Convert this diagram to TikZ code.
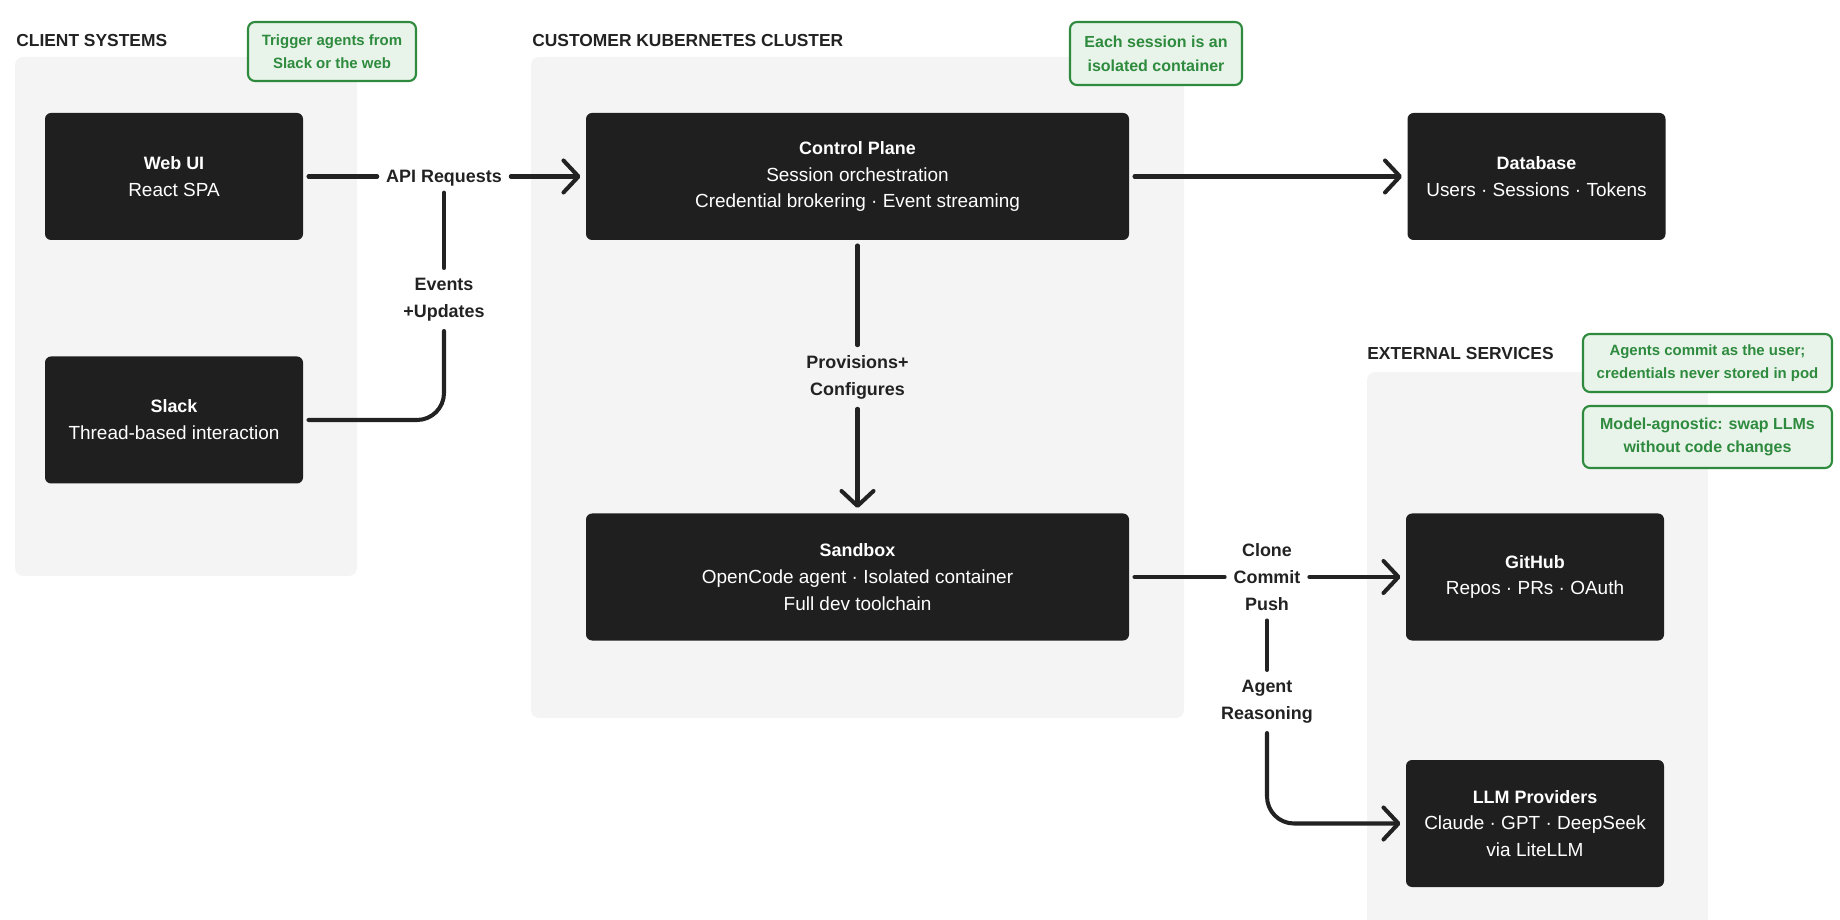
\documentclass[tikz,border=0pt]{standalone}
\usepackage{fontspec}
\setmainfont{Liberation Sans}
\usepackage{tikz}
\usetikzlibrary{arrows.meta}
\pgfdeclarelayer{bglayer}
\pgfdeclarelayer{edgelayer}
\pgfdeclarelayer{nodelayer}
\pgfsetlayers{bglayer,edgelayer,nodelayer,main}
\definecolor{ink}{HTML}{222222}
\definecolor{boxfill}{HTML}{1F1F1F}
\definecolor{grp}{HTML}{F4F4F4}
\definecolor{notefill}{HTML}{E8F3EA}
\definecolor{notegreen}{HTML}{2E8B3E}
\newcommand{\boxhead}{\bfseries\fontsize{10.2}{15.3}\selectfont}
\tikzstyle{none}=[inner sep=0pt]
\tikzstyle{darkbox}=[rectangle, rounded corners=0.12cm, fill=boxfill, text=white, align=center, minimum width=5.16cm, minimum height=2.54cm, outer sep=0.11cm, font=\fontsize{10.8}{15.3}\selectfont]
\tikzstyle{widebox}=[darkbox, minimum width=10.86cm]
\tikzstyle{group}=[fill=grp, rounded corners=0.16cm]
\tikzstyle{grouptitle}=[inner sep=0pt, anchor=west, text=ink, font=\bfseries\fontsize{9.9}{12}\selectfont]
\tikzstyle{flowlabel}=[inner sep=0pt, outer xsep=0.18cm, outer ysep=0.2cm, align=center, text=ink, font=\bfseries\fontsize{10.2}{15.3}\selectfont]
\tikzstyle{note}=[rectangle, rounded corners=0.14cm, draw=notegreen, line width=1.2pt, fill=notefill, text=notegreen, align=center, font=\bfseries\fontsize{8.5}{12.8}\selectfont]
\tikzstyle{flow}=[line width=2.3pt, draw=ink, line cap=round, line join=round]
\tikzstyle{arrow}=[flow, -{Straight Barb[length=0.3cm, width=0.64cm, round]}]

\begin{document}
\begin{tikzpicture}
	\useasboundingbox (0, 0) rectangle (36.8, -18.4);
	\begin{pgfonlayer}{bglayer}
		\fill [style=group] (0.30, -1.14) rectangle (7.14, -11.52);
		\fill [style=group] (10.62, -1.14) rectangle (23.68, -14.36);
		\fill [style=group] (27.34, -7.44) rectangle (34.16, -18.8);
	\end{pgfonlayer}
	\begin{pgfonlayer}{nodelayer}
		\node [style=darkbox] (0) at (3.48, -3.53) {{\boxhead Web UI}\\React SPA};
		\node [style=darkbox] (1) at (3.48, -8.40) {{\boxhead Slack}\\Thread-based interaction};
		\node [style=widebox] (2) at (17.15, -3.53) {{\boxhead Control Plane}\\Session orchestration\\Credential brokering · Event streaming};
		\node [style=widebox] (3) at (17.15, -11.54) {{\boxhead Sandbox}\\OpenCode agent · Isolated container\\Full dev toolchain};
		\node [style=darkbox] (4) at (30.73, -3.53) {{\boxhead Database}\\Users · Sessions · Tokens};
		\node [style=darkbox] (5) at (30.70, -11.54) {{\boxhead GitHub}\\Repos · PRs · OAuth};
		\node [style=darkbox] (6) at (30.70, -16.47) {{\boxhead LLM Providers}\\Claude · GPT · DeepSeek\\via LiteLLM};
		\node [style=flowlabel, text depth=0pt] (7) at (8.88, -3.53) {API Requests};
		\node [style=flowlabel] (8) at (8.88, -5.99) {Events\\+Updates};
		\node [style=flowlabel] (9) at (17.15, -7.54) {Provisions+\\Configures};
		\node [style=flowlabel] (10) at (25.34, -11.54) {Clone\\Commit\\Push};
		\node [style=flowlabel] (11) at (25.34, -14.03) {Agent\\Reasoning};
		\node [style=grouptitle] (12) at (0.32, -0.82) {CLIENT SYSTEMS};
		\node [style=grouptitle] (13) at (10.64, -0.82) {CUSTOMER KUBERNETES CLUSTER};
		\node [style=grouptitle] (14) at (27.34, -7.08) {EXTERNAL SERVICES};
		\node [style=note, minimum width=3.36cm, minimum height=1.18cm] (15) at (6.64, -1.03) {Trigger agents from\\Slack or the web};
		\node [style=note, minimum width=3.44cm, minimum height=1.26cm, font=\bfseries\fontsize{9.1}{13.6}\selectfont] (16) at (23.12, -1.07) {Each session is an\\isolated container};
		\node [style=note, minimum width=4.98cm, minimum height=1.16cm] (17) at (34.15, -7.26) {Agents commit as the user;\\credentials never stored in pod};
		\node [style=note, minimum width=4.98cm, minimum height=1.24cm, font=\bfseries\fontsize{9.1}{13.2}\selectfont] (18) at (34.15, -8.74) {Model-agnostic: swap LLMs\\without code changes};
	\end{pgfonlayer}
	\begin{pgfonlayer}{edgelayer}
		\draw [style=flow] (0.east) to (7.west);
		\draw [style=arrow] (7.east) to (2.west);
		\draw [style=flow, rounded corners=0.54cm] (1.east) -| (8.south);
		\draw [style=flow] (8.north) to (7.south);
		\draw [style=arrow] (2.east) to (4.west);
		\draw [style=flow] (2.south) to (9.north);
		\draw [style=arrow] (9.south) to (3.north);
		\draw [style=flow] (3.east) to (10.west);
		\draw [style=arrow] (10.east) to (5.west);
		\draw [style=flow] (10.south) to (11.north);
		\draw [style=arrow, rounded corners=0.54cm] (11.south) |- (6.west);
	\end{pgfonlayer}
\end{tikzpicture}
\end{document}
